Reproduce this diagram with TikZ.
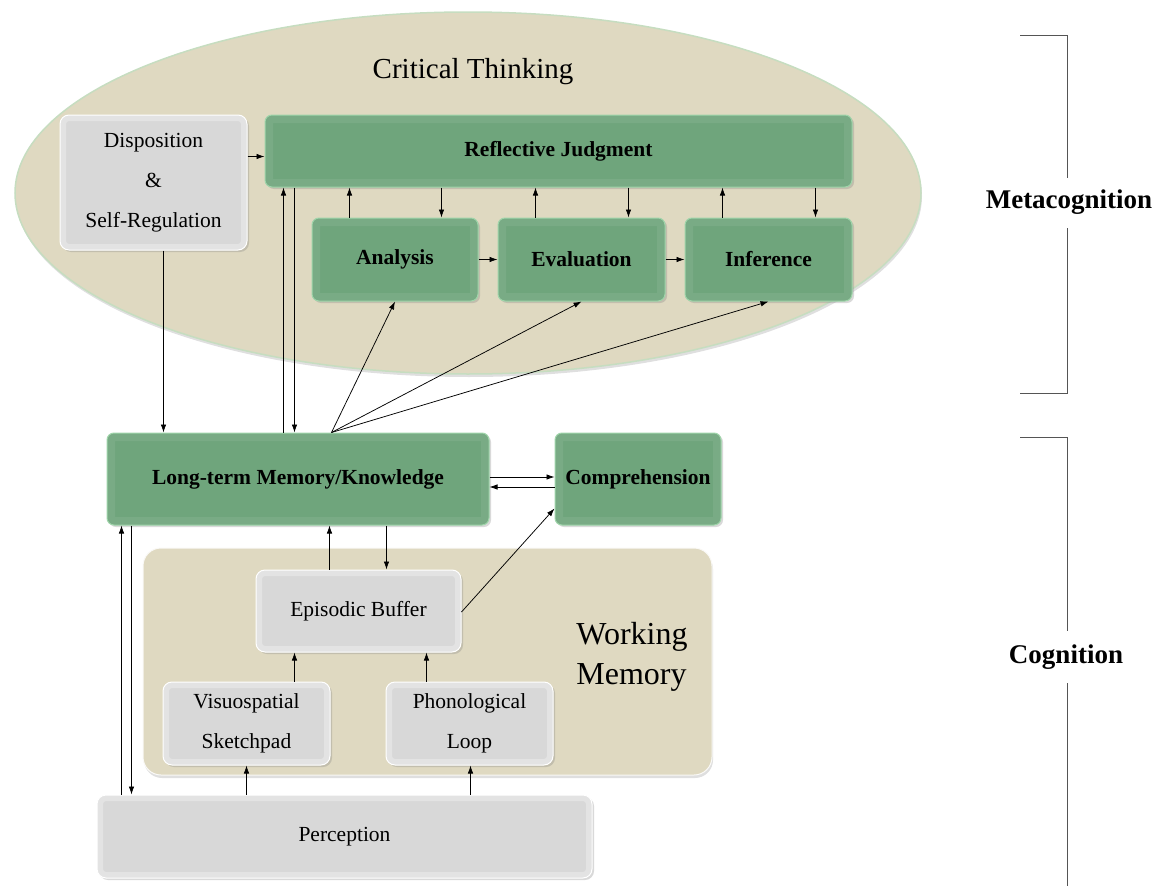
\documentclass[tikz,border=0pt]{standalone}
\usepackage{fontspec}
\setmainfont{Liberation Serif}
\usetikzlibrary{arrows.meta, positioning, calc, shadows}

\definecolor{ctbeige}{HTML}{DFD9C1}
\definecolor{ctedge}{HTML}{C6DDC0}
\definecolor{ctgreen}{HTML}{6FA57C}
\definecolor{ctgreenlt}{HTML}{9FD5AA}
\definecolor{ctgray}{HTML}{D8D8D8}
\definecolor{ctline}{HTML}{555555}

\tikzset{
    greenbox/.style={rounded corners=7pt, fill=ctgreen, draw=ctgreenlt, line width=1pt,
        inner sep=0pt, font=\fontsize{21.5}{24}\selectfont\bfseries,
        drop shadow={opacity=0.3, shadow xshift=2pt, shadow yshift=-2pt},
        path picture={\draw[white, opacity=0.07, line width=16pt]
            (path picture bounding box.south west) rectangle (path picture bounding box.north east);}},
    graybox/.style={rounded corners=9pt, fill=ctgray, draw=white, line width=1pt,
        inner sep=0pt, align=center, font=\fontsize{21.5}{40}\selectfont,
        drop shadow={opacity=0.3, shadow xshift=2pt, shadow yshift=-2pt},
        path picture={\draw[white, opacity=0.3, line width=12pt]
            (path picture bounding box.south west) rectangle (path picture bounding box.north east);}},
    link/.style={-{Latex[length=8pt, width=5.5pt]}, line width=0.75pt},
    bracket/.style={ctline, line width=1pt}
}

\begin{document}
\begin{tikzpicture}[x=1pt, y=-1pt]
    \useasboundingbox (0,0) rectangle (1168,886);

    % Critical Thinking ellipse
    \path[fill=ctbeige, draw=ctedge, line width=1.5pt, drop shadow={opacity=0.25, shadow xshift=1pt, shadow yshift=-3pt}]
        (468,193) ellipse [x radius=453, y radius=181];
    \node[font=\fontsize{29}{34}\selectfont] (ct) at (473,72) {Critical Thinking};

    % Working Memory panel
    \path[fill=ctbeige, draw=white!85!ctbeige, line width=1pt, rounded corners=18pt, drop shadow={opacity=0.25, shadow xshift=1pt, shadow yshift=-3pt}]
        (143,548) rectangle (712,775);
    \node[font=\fontsize{32}{40}\selectfont, align=left] (wm) at (632,657) {Working\\Memory};

    % Boxes
    \node[graybox, minimum width=187pt, minimum height=135pt] (disp) at (153.5,182.5) {Disposition\\\&\\Self-Regulation};
    \node[greenbox, minimum width=587pt, minimum height=72pt] (rj) at (558.5,151) {Reflective Judgment};
    \node[greenbox, minimum width=166pt, minimum height=83pt] (ana) at (395,259.5) {Analysis};
    \node[greenbox, minimum width=167pt, minimum height=83pt] (eva) at (581.5,259.5) {Evaluation};
    \node[greenbox, minimum width=167pt, minimum height=83pt] (inf) at (768.5,259.5) {Inference};
    \node[greenbox, minimum width=382pt, minimum height=92pt] (ltm) at (298,479) {Long-term Memory/Knowledge};
    \node[greenbox, minimum width=166pt, minimum height=92pt] (comp) at (638,479) {Comprehension};
    \node[graybox, minimum width=205pt, minimum height=82pt] (eb) at (358.5,611) {Episodic Buffer};
    \node[graybox, minimum width=167pt, minimum height=83pt] (vs) at (246.5,723.5) {Visuospatial\\Sketchpad};
    \node[graybox, minimum width=167pt, minimum height=83pt] (pl) at (469.5,723.5) {Phonological\\Loop};
    \node[graybox, minimum width=495pt, minimum height=83pt] (perc) at (344.5,836.5) {Perception};

    % Arrows inside critical thinking
    \draw[link] ([yshift=26pt]disp.east) -- ([yshift=26pt]disp.east -| rj.west);
    \foreach \n in {ana, eva, inf} {
        \draw[link] ([xshift=38pt]\n.north west) -- ([xshift=38pt]\n.north west |- rj.south);
        \draw[link] ([xshift=-37pt]\n.north east |- rj.south) -- ([xshift=-37pt]\n.north east);
    }
    \draw[link] (ana) -- (eva);
    \draw[link] (eva) -- (inf);

    % Links to long-term memory
    \draw[link] ([xshift=10pt]disp.south) -- ([xshift=10pt]disp.south |- ltm.north);
    \draw[link] ([xshift=177pt]ltm.north west) -- ([xshift=177pt]ltm.north west |- rj.south);
    \draw[link] ([xshift=188pt]ltm.north west |- rj.south) -- ([xshift=188pt]ltm.north west);
    \draw[link] ([xshift=225pt]ltm.north west) -- (ana.south);
    \draw[link] ([xshift=225pt]ltm.north west) -- (eva.south);
    \draw[link] ([xshift=225pt]ltm.north west) -- (inf.south);
    \draw[link] ([yshift=2pt]ltm.east) -- ([yshift=2pt]ltm.east -| comp.west);
    \draw[link] ([yshift=-8pt]ltm.east -| comp.west) -- ([yshift=-8pt]ltm.east);

    % Working memory links
    \draw[link] ([xshift=74pt]eb.north west) -- ([xshift=74pt]eb.north west |- ltm.south);
    \draw[link] ([xshift=131pt]eb.north west |- ltm.south) -- ([xshift=131pt]eb.north west);
    \draw[link] ([yshift=-1pt]eb.east) -- ([yshift=17pt]comp.south west);
    \draw[link] ([xshift=48pt]vs.north) -- ([xshift=48pt]vs.north |- eb.south);
    \draw[link] ([xshift=-43pt]pl.north) -- ([xshift=-43pt]pl.north |- eb.south);
    \draw[link] (vs.south |- perc.north) -- (vs.south);
    \draw[link] ([xshift=1pt]pl.south |- perc.north) -- ([xshift=1pt]pl.south);
    \draw[link] ([xshift=15pt]ltm.south west |- perc.north) -- ([xshift=15pt]ltm.south west);
    \draw[link] ([xshift=25pt]ltm.south west) -- ([xshift=25pt]ltm.south west |- perc.north);

    % Brackets
    \draw[bracket] (1020,35) -- (1067,35) -- (1067,178);
    \draw[bracket] (1067,228) -- (1067,393) -- (1020,393);
    \node[font=\fontsize{27}{30}\selectfont\bfseries] (meta) at (1069,202) {Metacognition};
    \draw[bracket] (1020,437) -- (1067,437) -- (1067,631);
    \draw[bracket] (1067,683) -- (1067,886);
    \node[font=\fontsize{27}{30}\selectfont\bfseries] (cog) at (1066,657) {Cognition};
\end{tikzpicture}
\end{document}
